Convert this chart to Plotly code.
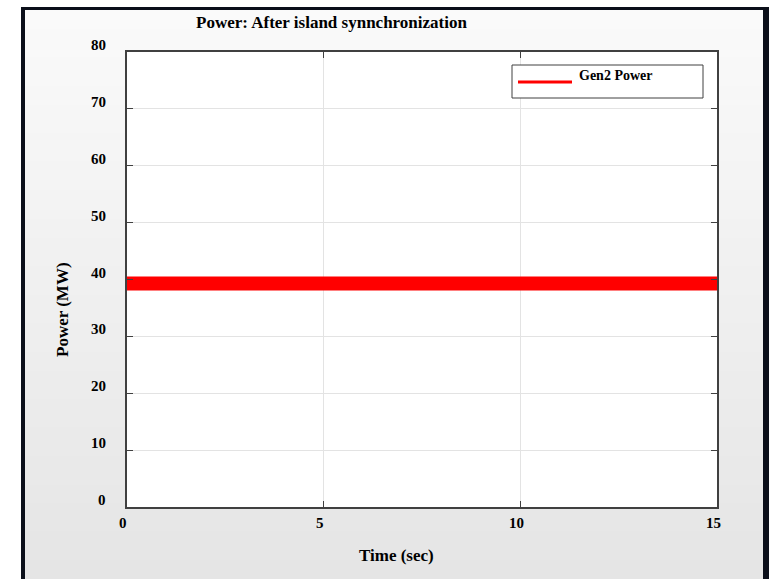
import plotly.graph_objects as go

# ---- data ----
time_sec = [0, 2.5, 5, 7.5, 10, 12.5, 15]
gen2_power_mw = [39.3, 39.3, 39.3, 39.3, 39.3, 39.3, 39.3]
series_name = "Gen2 Power"
x_ticks = [0, 5, 10, 15]
y_ticks = [0, 10, 20, 30, 40, 50, 60, 70, 80]
title_text = "Power: After island synnchronization"
x_title = "Time (sec)"
y_title = "Power (MW)"

W, H = 769, 579
L, R, T, B = 127, 717, 52, 507  # plot area in pixels
line_color = "#ff0000"
font_family = "Liberation Serif"

def px(x):
    return (x - L) / (R - L)

def py(y):
    return (B - y) / (B - T)

fig = go.Figure()
fig.add_trace(go.Scatter(x=time_sec, y=gen2_power_mw, mode="lines", name=series_name,
                         line=dict(color=line_color, width=14), showlegend=False,
                         hoverinfo="skip"))

shapes = []
# background gradient
n = 60
top_c, bot_c = (250, 250, 250), (229, 229, 229)
y_start, y_end = 10, H
for i in range(n):
    ya = y_start + (y_end - y_start) * i / n
    yb = y_start + (y_end - y_start) * (i + 1) / n + 1
    t = i / (n - 1)
    c = tuple(int(round(top_c[k] + (bot_c[k] - top_c[k]) * t)) for k in range(3))
    shapes.append(dict(type="rect", xref="paper", yref="paper", layer="below",
                       x0=px(24), x1=px(763), y0=py(ya), y1=py(yb),
                       fillcolor="rgb(%d,%d,%d)" % c, line=dict(width=0)))
# white plot area
shapes.append(dict(type="rect", xref="paper", yref="paper", layer="below",
                   x0=0, x1=1, y0=0, y1=1, fillcolor="white", line=dict(width=0)))
# dark frame
frame = "#0b0f1a"
shapes.append(dict(type="rect", xref="paper", yref="paper", x0=px(21), x1=px(769),
                   y0=py(7), y1=py(10), fillcolor=frame, line=dict(width=0)))
shapes.append(dict(type="rect", xref="paper", yref="paper", x0=px(21), x1=px(25),
                   y0=py(7), y1=py(H + 5), fillcolor=frame, line=dict(width=0)))
shapes.append(dict(type="rect", xref="paper", yref="paper", x0=px(763), x1=px(770),
                   y0=py(7), y1=py(H + 5), fillcolor=frame, line=dict(width=0)))
# legend box
shapes.append(dict(type="rect", xref="paper", yref="paper", x0=px(512), x1=px(703),
                   y0=py(65), y1=py(98), fillcolor="white", line=dict(color="#404040", width=1)))
shapes.append(dict(type="line", xref="paper", yref="paper", x0=px(518), x1=px(572),
                   y0=py(82), y1=py(82), line=dict(color=line_color, width=3)))

annotations = [
    dict(text="<b>%s</b>" % series_name, xref="paper", yref="paper", x=px(577), y=py(75),
         xanchor="left", yanchor="middle", showarrow=False,
         font=dict(family=font_family, size=14, color="black")),
    dict(text="<b>%s</b>" % title_text, xref="paper", yref="paper", x=px(331), y=py(22),
         xanchor="center", yanchor="middle", showarrow=False,
         font=dict(family=font_family, size=17, color="black")),
    dict(text="<b>%s</b>" % x_title, xref="paper", yref="paper", x=px(396), y=py(555),
         xanchor="center", yanchor="middle", showarrow=False,
         font=dict(family=font_family, size=17, color="black")),
    dict(text="<b>%s</b>" % y_title, xref="paper", yref="paper", x=px(62), y=py(310),
         xanchor="center", yanchor="middle", showarrow=False, textangle=-90,
         font=dict(family=font_family, size=17, color="black")),
]
tick_font = dict(family=font_family, size=15, color="black")
for v in y_ticks:
    annotations.append(dict(text="<b>%d</b>" % v, xref="paper", yref="y", x=px(108), y=v,
                            xanchor="right", yanchor="middle", yshift=7, showarrow=False,
                            font=tick_font))
for v in x_ticks:
    annotations.append(dict(text="<b>%d</b>" % v, xref="x", yref="paper", x=v, y=py(523),
                            xanchor="center", yanchor="middle", xshift=-4, showarrow=False,
                            font=tick_font))

axis_common = dict(showline=True, linecolor="#404040", linewidth=1.5, mirror="ticks",
                   ticks="inside", ticklen=6, tickcolor="#404040", tickwidth=1,
                   showgrid=True, gridcolor="#e3e3e3", gridwidth=1, zeroline=False,
                   showticklabels=False)

fig.update_layout(
    width=W, height=H, autosize=False,
    margin=dict(l=L, r=W - R, t=T, b=H - B, pad=0),
    paper_bgcolor="white", plot_bgcolor="white",
    shapes=shapes, annotations=annotations,
    xaxis=dict(range=[0, 15], tickvals=x_ticks, **axis_common),
    yaxis=dict(range=[0, 80], tickvals=y_ticks, **axis_common),
)

fig.write_html("out.html", config={"displayModeBar": False},
               post_script="document.body.style.margin='0';")
